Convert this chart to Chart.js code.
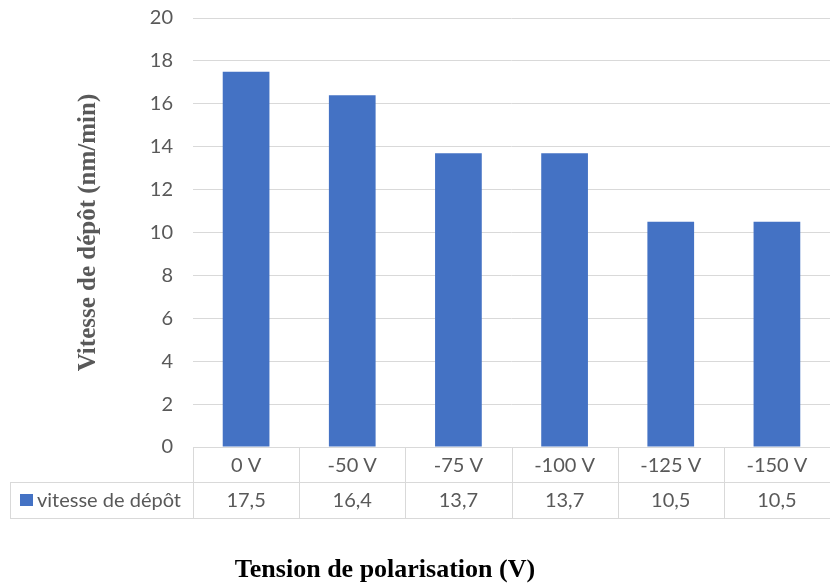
<!DOCTYPE html>
<html>
<head>
<meta charset="utf-8">
<script src="https://cdn.jsdelivr.net/npm/chart.js@4.4.0/dist/chart.umd.min.js"></script>
<style>
  html, body { margin: 0; padding: 0; background: #fff; }
  #wrap { width: 830px; height: 585px; position: relative; }
</style>
</head>
<body>
<div id="wrap"><canvas id="myChart"></canvas></div>
<script>
// donnees
const categories = ['0 V', '-50 V', '-75 V', '-100 V', '-125 V', '-150 V'];
const vitesse = [17.5, 16.4, 13.7, 13.7, 10.5, 10.5];
const valueLabels = ['17,5', '16,4', '13,7', '13,7', '10,5', '10,5'];
const seriesName = 'vitesse de dépôt';
const yTitle = 'Vitesse de dépôt (nm/min)';
const xTitle = 'Tension de polarisation (V)';

const barColor = '#4472C4';
const textGrey = '#595959';
const lineGrey = '#d9d9d9';
const tickFont = { family: 'Lato', size: 20 };

// tableau de donnees sous le graphique (comme Excel)
const dataTable = {
  id: 'dataTable',
  afterDraw(chart) {
    const ctx = chart.ctx;
    const x = chart.scales.x;
    const area = chart.chartArea;
    const top = area.bottom;
    const mid = top + 35;
    const bottom = mid + 36;
    const step = (x.getPixelForValue(1) - x.getPixelForValue(0));
    ctx.save();
    ctx.strokeStyle = lineGrey;
    ctx.lineWidth = 1;
    ctx.beginPath();
    ctx.moveTo(area.left, top + 0.5); ctx.lineTo(area.right, top + 0.5);
    ctx.moveTo(10, mid + 0.5); ctx.lineTo(area.right, mid + 0.5);
    ctx.moveTo(10, bottom + 0.5); ctx.lineTo(area.right, bottom + 0.5);
    ctx.moveTo(10.5, mid); ctx.lineTo(10.5, bottom);
    for (let i = 0; i < categories.length; i++) {
      const xl = Math.round(x.getPixelForValue(i) - step / 2) + 0.5;
      ctx.moveTo(xl, top); ctx.lineTo(xl, bottom);
    }
    ctx.stroke();

    ctx.fillStyle = textGrey;
    ctx.font = tickFont.size + 'px ' + tickFont.family;
    ctx.textAlign = 'center';
    ctx.textBaseline = 'middle';
    categories.forEach((c, i) => {
      ctx.fillText(c, x.getPixelForValue(i), (top + mid) / 2 + 1);
      ctx.fillText(valueLabels[i], x.getPixelForValue(i), (mid + bottom) / 2 + 1);
    });
    // legende de la serie
    ctx.fillStyle = barColor;
    ctx.fillRect(20, (mid + bottom) / 2 - 6, 13, 12);
    ctx.fillStyle = textGrey;
    ctx.textAlign = 'left';
    ctx.fillText(seriesName, 37, (mid + bottom) / 2 + 1);

    // titre axe x
    ctx.fillStyle = '#000';
    ctx.font = 'bold 26px "Liberation Serif"';
    ctx.textAlign = 'center';
    ctx.textBaseline = 'alphabetic';
    ctx.fillText(xTitle, 385, 577);
    ctx.restore();
  }
};

const chartUser = new Chart(document.getElementById('myChart'), {
  type: 'bar',
  data: {
    labels: categories,
    datasets: [{
      label: seriesName,
      data: vitesse,
      backgroundColor: barColor,
      borderWidth: 0,
      categoryPercentage: 1,
      barPercentage: 0.44
    }]
  },
  options: {
    responsive: true,
    maintainAspectRatio: false,
    animation: false,
    layout: { padding: { top: 18, right: 0, bottom: 138, left: 0 } },
    plugins: { legend: { display: false }, tooltip: { enabled: false } },
    scales: {
      x: { display: false },
      y: {
        min: 0,
        max: 20,
        ticks: { stepSize: 2, color: textGrey, font: tickFont, padding: 20 },
        grid: { color: lineGrey, drawTicks: false },
        border: { display: false },
        title: {
          display: true,
          text: yTitle,
          color: textGrey,
          font: { family: 'Liberation Serif', size: 25, weight: 'bold' },
          padding: { top: 74, bottom: 0 }
        },
        afterFit(scale) {
          scale.width = 193;
          scale.paddingTop = 0;
          scale.paddingBottom = 0;
        }
      }
    }
  },
  plugins: [dataTable]
});
</script>
</body>
</html>
